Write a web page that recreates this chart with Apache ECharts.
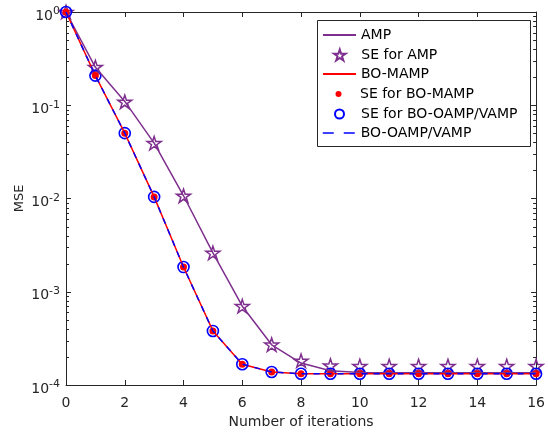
<!DOCTYPE html>
<html>
<head>
<meta charset="utf-8">
<script src="https://cdn.jsdelivr.net/npm/echarts@6/dist/echarts.min.js"></script>
<style>
  html, body { margin: 0; padding: 0; background: #fff; }
  #chart { width: 548px; height: 434px; }
</style>
</head>
<body>
<div id="chart"></div>
<script>
// Iteration index (x) and MSE per iteration for each algorithm
const iterations = [0, 1, 2, 3, 4, 5, 6, 7, 8, 9, 10, 11, 12, 13, 14, 15, 16];
const ampMse     = [1, 0.255, 0.110, 0.0392, 0.0107, 0.00261, 7.0e-4, 2.7e-4, 1.72e-4, 1.42e-4, 1.36e-4, 1.35e-4, 1.35e-4, 1.35e-4, 1.35e-4, 1.35e-4, 1.35e-4];
const seAmp      = [1, 0.257, 0.109, 0.0392, 0.0107, 0.00261, 7.0e-4, 2.71e-4, 1.82e-4, 1.62e-4, 1.60e-4, 1.60e-4, 1.60e-4, 1.60e-4, 1.60e-4, 1.60e-4, 1.60e-4];
const boMampMse  = [1, 0.208, 0.0502, 0.0104, 0.00184, 3.8e-4, 1.67e-4, 1.38e-4, 1.32e-4, 1.32e-4, 1.32e-4, 1.32e-4, 1.32e-4, 1.32e-4, 1.32e-4, 1.32e-4, 1.32e-4];
const seBoMamp   = [1, 0.208, 0.0502, 0.0104, 0.00184, 3.8e-4, 1.67e-4, 1.38e-4, 1.32e-4, 1.32e-4, 1.32e-4, 1.32e-4, 1.32e-4, 1.32e-4, 1.32e-4, 1.32e-4, 1.32e-4];
const seBoOamp   = [1, 0.208, 0.0502, 0.0104, 0.00184, 3.8e-4, 1.67e-4, 1.38e-4, 1.32e-4, 1.32e-4, 1.32e-4, 1.32e-4, 1.32e-4, 1.32e-4, 1.32e-4, 1.32e-4, 1.32e-4];
const boOampMse  = [1, 0.208, 0.0502, 0.0104, 0.00184, 3.8e-4, 1.67e-4, 1.38e-4, 1.32e-4, 1.32e-4, 1.32e-4, 1.32e-4, 1.32e-4, 1.32e-4, 1.32e-4, 1.32e-4, 1.32e-4];
const seriesNames = ['AMP', 'SE for AMP', 'BO-MAMP', 'SE for BO-MAMP', 'SE for BO-OAMP/VAMP', 'BO-OAMP/VAMP'];
const xLabel = 'Number of iterations';
const yLabel = 'MSE';

const PURPLE = '#7E2F8E', RED = '#FF0000', BLUE = '#0000FF', INK = '#262626';
const FONT = 'DejaVu Sans';
const STAR = 'path://M0,-10 L2.245,-3.09 L9.511,-3.09 L3.633,1.18 L5.878,8.09 L0,3.82 L-5.878,8.09 L-3.633,1.18 L-9.511,-3.09 L-2.245,-3.09 Z';

const pairs = ys => iterations.map((x, i) => [x, ys[i]]);

const chart = echarts.init(document.getElementById('chart'), null, { renderer: 'canvas' });

const tickStyle = { show: true, inside: true, length: 5, lineStyle: { color: INK, width: 1 } };
const lineAxis = { show: true, onZero: false, lineStyle: { color: INK, width: 1 } };

// one legend per entry so each key symbol keeps its own size
const KEY_W = 33, KEY_LEFT = 322;
const rowTop = [25, 45, 64, 84, 104, 123];
const keyIsLine = [true, false, true, false, false, true];
const legendIconH = [14, 11, 14, 6, 9, 14];
const legends = seriesNames.map((n, i) => {
  const h = legendIconH[i];
  const l = {
    data: [n], top: rowTop[i], orient: 'vertical', padding: 0,
    // symbol-only keys are centred in the key box, so shift by the empty margin
    left: keyIsLine[i] ? KEY_LEFT : KEY_LEFT + (KEY_W - h) / 2,
    itemWidth: KEY_W, itemHeight: h, selectedMode: false,
    textStyle: { fontFamily: FONT, fontSize: 14, color: '#000', lineHeight: 20 }
  };
  if (keyIsLine[i]) l.itemStyle = { opacity: 0 };
  if (n === 'BO-OAMP/VAMP') l.lineStyle = { type: [11, 10], width: 1.5 };
  return l;
});

const option = {
  animation: false,
  backgroundColor: '#fff',
  grid: { left: 66, right: 9, top: 12, bottom: 47, containLabel: false },
  legend: legends,
  xAxis: [{
    type: 'value', min: 0, max: 16, interval: 2,
    axisLine: lineAxis, axisTick: tickStyle, splitLine: { show: false },
    axisLabel: { fontFamily: FONT, fontSize: 14, color: INK, margin: 11 },
    name: xLabel, nameLocation: 'middle', nameGap: 30, nameMoveOverlap: false,
    nameTextStyle: { fontFamily: FONT, fontSize: 14, color: INK }
  }, {
    type: 'value', position: 'top', min: 0, max: 16, interval: 2,
    axisLine: lineAxis, axisTick: tickStyle, splitLine: { show: false },
    axisLabel: { show: false }
  }],
  yAxis: [{
    type: 'log', logBase: 10, min: 1e-4, max: 1,
    axisLine: lineAxis, axisTick: tickStyle, splitLine: { show: false },
    axisLabel: {
      margin: 6,
      padding: [8, 0, 0, 0],
      formatter: v => '{b|10}{s|' + Math.round(Math.log10(v)) + '}',
      rich: {
        b: { fontFamily: FONT, fontSize: 14, color: INK },
        s: { fontFamily: FONT, fontSize: 11, color: INK, padding: [0, 0, 9, 0] }
      }
    },
    name: yLabel, nameLocation: 'middle', nameGap: 40, nameRotate: 90, nameMoveOverlap: false,
    nameTextStyle: { fontFamily: FONT, fontSize: 13, color: INK }
  }, {
    type: 'log', logBase: 10, min: 1e-4, max: 1, position: 'right',
    axisLine: lineAxis, axisTick: tickStyle, splitLine: { show: false },
    axisLabel: { show: false }
  }],
  series: [
    { name: seriesNames[0], type: 'line', data: pairs(ampMse), symbol: 'none',
      lineStyle: { color: PURPLE, width: 1.5 }, itemStyle: { color: PURPLE } },
    { name: seriesNames[1], type: 'scatter', data: pairs(seAmp), symbol: STAR, symbolSize: 14,
      symbolKeepAspect: true, clip: false,
      itemStyle: { color: 'rgba(255,255,255,0)', borderColor: PURPLE, borderWidth: 1.5, opacity: 1 } },
    { name: seriesNames[2], type: 'line', data: pairs(boMampMse), symbol: 'none',
      lineStyle: { color: RED, width: 1.5 }, itemStyle: { color: RED } },
    { name: seriesNames[5], type: 'line', data: pairs(boOampMse), symbol: 'none',
      lineStyle: { color: BLUE, width: 1.5, type: [6, 6] }, itemStyle: { color: BLUE } },
    { name: seriesNames[4], type: 'scatter', data: pairs(seBoOamp), symbol: 'circle', symbolSize: 11,
      clip: false,
      itemStyle: { color: 'rgba(255,255,255,0)', borderColor: BLUE, borderWidth: 1.6, opacity: 1 } },
    { name: seriesNames[3], type: 'scatter', data: pairs(seBoMamp), symbol: 'circle', symbolSize: 7,
      clip: false, itemStyle: { color: RED, opacity: 1 } }
  ]
};
chart.setOption(option);

// minor log ticks (2..9 within each decade) on both vertical axes, plus legend frame
const x0 = chart.convertToPixel({ xAxisIndex: 0 }, 0);
const x1 = chart.convertToPixel({ xAxisIndex: 0 }, 16);
const minor = [];
for (let e = -4; e < 0; e++) {
  for (let m = 2; m <= 9; m++) {
    const y = Math.round(chart.convertToPixel({ yAxisIndex: 0 }, m * Math.pow(10, e))) + 0.5;
    minor.push({ type: 'line', shape: { x1: x0, y1: y, x2: x0 + 3, y2: y }, style: { stroke: INK, lineWidth: 1 }, silent: true });
    minor.push({ type: 'line', shape: { x1: x1 - 3, y1: y, x2: x1, y2: y }, style: { stroke: INK, lineWidth: 1 }, silent: true });
  }
}
minor.push({
  type: 'rect', shape: { x: 317.5, y: 20.5, width: 213, height: 126 },
  style: { fill: '#fff', stroke: INK, lineWidth: 1 }, z: 3, silent: true
});
chart.setOption({ graphic: minor });
</script>
</body>
</html>
